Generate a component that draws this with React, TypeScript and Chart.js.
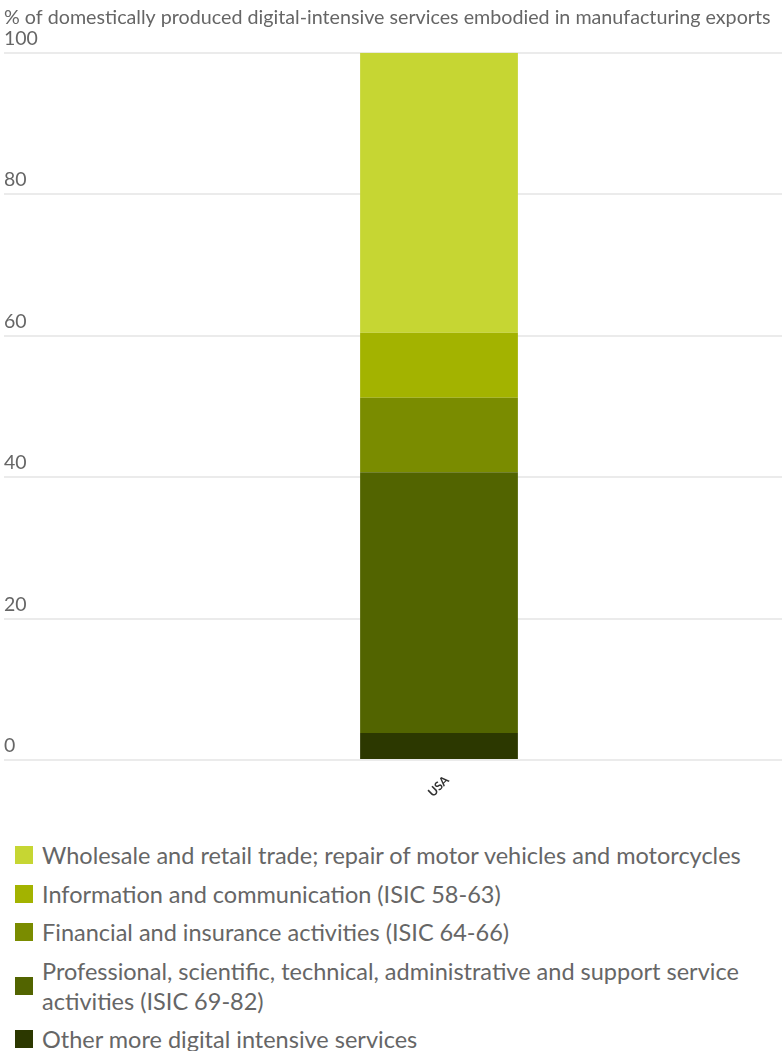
import React, { useEffect, useRef } from "react";
import { Chart, registerables } from "chart.js";

Chart.register(...registerables);

const TITLE = "% of domestically produced digital-intensive services embodied in manufacturing exports";
const CATEGORIES = ["USA"];
const SERIES_NAMES = [
  "Other more digital intensive services",
  "Professional, scientific, technical, administrative and support service activities (ISIC 69-82)",
  "Financial and insurance activities (ISIC 64-66)",
  "Information and communication (ISIC 58-63)",
  "Wholesale and retail trade; repair of motor vehicles and motorcycles",
];
const OTHER = [3.8];
const PROFESSIONAL = [36.9];
const FINANCIAL = [10.5];
const INFORMATION = [9.2];
const WHOLESALE = [39.6];
const SERIES_VALUES = [OTHER, PROFESSIONAL, FINANCIAL, INFORMATION, WHOLESALE];
const COLORS = ["#2c3800", "#526400", "#7a8c00", "#a3b300", "#c6d633"];
const Y_TICKS = [0, 20, 40, 60, 80, 100];

const FONT = "Lato, 'Open Sans', sans-serif";
const TEXT = "#666666";

export default function App() {
  const ref = useRef<HTMLCanvasElement | null>(null);

  useEffect(() => {
    if (!ref.current) return;
    const chart = new Chart(ref.current, {
      type: "bar",
      data: {
        labels: CATEGORIES,
        datasets: SERIES_NAMES.map((name, i) => ({
          label: name,
          data: SERIES_VALUES[i],
          backgroundColor: COLORS[i],
          borderWidth: 0,
          barPercentage: 0.23,
          categoryPercentage: 1,
        })),
      },
      options: {
        animation: false,
        responsive: false,
        maintainAspectRatio: false,
        layout: { padding: { left: 4, right: 1, top: 0, bottom: 0 } },
        plugins: {
          legend: { display: false },
          tooltip: { enabled: false },
          title: {
            display: true,
            text: TITLE,
            align: "start",
            color: TEXT,
            font: { family: FONT, size: 19.7, weight: "normal", lineHeight: 1.0 },
            padding: { top: 8, bottom: 25 },
          },
        },
        scales: {
          x: {
            stacked: true,
            grid: { display: false },
            border: { display: false },
            ticks: {
              color: "#333",
              font: { family: FONT, size: 12, weight: "bold" },
              minRotation: 45,
              maxRotation: 45,
              padding: 5,
              labelOffset: 8,
            },
            afterFit: (s: any) => {
              s.height = 50;
            },
          },
          y: {
            stacked: true,
            min: 0,
            max: 100,
            afterBuildTicks: (s: any) => {
              s.ticks = Y_TICKS.map((v) => ({ value: v }));
            },
            grid: {
              color: "#ebebeb",
              lineWidth: 2,
              drawTicks: true,
              tickLength: 92,
            },
            border: { display: false },
            ticks: {
              color: TEXT,
              font: { family: FONT, size: 19.5 },
              crossAlign: "far",
              labelOffset: -14,
              padding: 0,
            },
            afterFit: (s: any) => {
              s.width = 92;
            },
          },
        },
      },
    });
    return () => chart.destroy();
  }, []);

  return (
    <div style={{ position: "absolute", left: 0, top: 0, width: 783, fontFamily: FONT }}>
      <canvas ref={ref} width={783} height={810} style={{ display: "block", width: 783, height: 810 }} />
      <div style={{ marginTop: 30 }}>
        {[...SERIES_NAMES].reverse().map((name, idx) => {
          const ci = SERIES_NAMES.length - 1 - idx;
          return (
            <div
              key={name}
              style={{ display: "flex", alignItems: "center", marginBottom: 8.5, paddingLeft: 15 }}
            >
              <span
                style={{
                  flex: "0 0 18px",
                  width: 18,
                  height: 18,
                  background: COLORS[ci],
                  marginRight: 9,
                }}
              />
              <span style={{ fontSize: 23.5, lineHeight: "30px", color: TEXT, paddingRight: 20 }}>{name}</span>
            </div>
          );
        })}
      </div>
    </div>
  );
}
